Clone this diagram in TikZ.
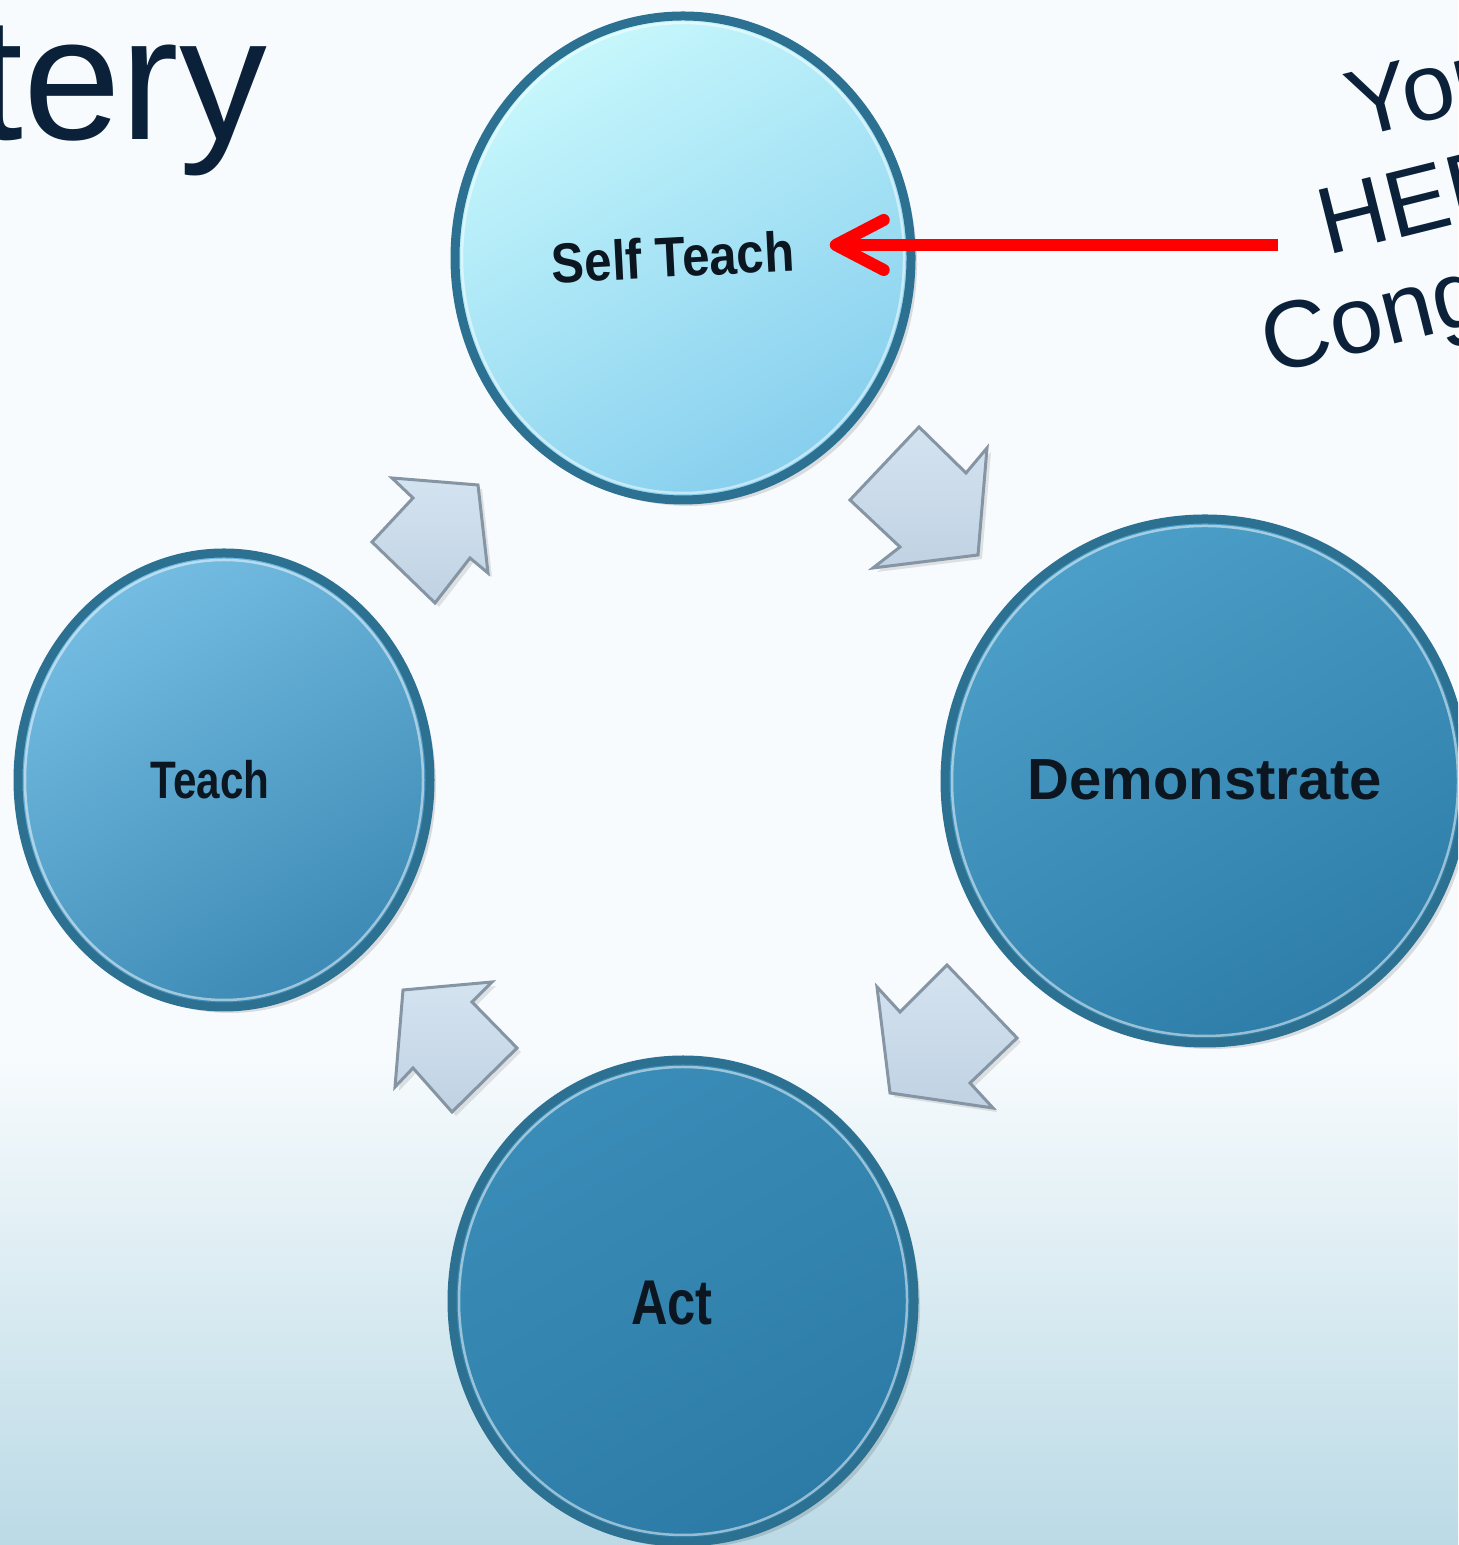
\documentclass[tikz,border=0pt]{standalone}
\usepackage{fontspec}
\setmainfont{Liberation Sans}
\usetikzlibrary{arrows.meta}

\definecolor{bgtop}{HTML}{F7FBFD}
\definecolor{bgbottom}{HTML}{BBDAE6}
\definecolor{titleink}{HTML}{0B2139}
\definecolor{textink}{HTML}{0C1620}
\definecolor{rimblue}{HTML}{2C7192}
\definecolor{hered}{HTML}{FF0000}
\definecolor{arrowlight}{HTML}{D4E3F0}
\definecolor{arrowdark}{HTML}{C0D2E3}
\definecolor{arrowedge}{HTML}{8595A4}
\definecolor{stlight}{HTML}{C6F7FC}
\definecolor{stdark}{HTML}{87CFEE}
\definecolor{tchlight}{HTML}{74BCE2}
\definecolor{tchdark}{HTML}{3C8AB5}
\definecolor{demlight}{HTML}{4C9FC8}
\definecolor{demdark}{HTML}{2D7DA8}
\definecolor{actlight}{HTML}{3A8DB8}
\definecolor{actdark}{HTML}{2C7BA6}

\begin{document}
\begin{tikzpicture}[
    bubbletext/.style={font=\bfseries, text=textink, inner sep=0pt},
    bubblerim/.style={draw=rimblue, line width=0.09cm},
    bubbleshine/.style={draw=white, draw opacity=0.5, line width=0.025cm},
    bubbleshadow/.style={fill=black, fill opacity=0.12},
    blockarrow/.style={top color=arrowlight, bottom color=arrowdark, draw=arrowedge, line width=0.03cm},
    blockshadow/.style={fill=black, fill opacity=0.10},
    herearrow/.style={draw=hered, line width=0.12cm, -{Straight Barb[length=0.48cm,width=0.5cm,round]}},
    slidetext/.style={text=titleink, inner sep=0pt}
  ]
% \clip (0,0) rectangle (14.580000,15.450000);
\useasboundingbox (0,0) rectangle (14.58,15.45);
\clip (0,0) rectangle (14.58,15.45);

% Drawing the slide background
\fill[bgtop] (0,0) rectangle (14.58,15.45);
\shade[top color=bgtop, bottom color=bgbottom] (0,0) rectangle (14.58,4.90);

% Marking the title, cut at the left
\node[slidetext, anchor=base east, font=\fontsize{50}{60}\selectfont] (title) at (2.68,14.05) {tery};

% Drawing circle Self Teach
\fill[bubbleshadow] (6.89,12.81) ellipse (2.28 and 2.42);
\shade[top color=stlight, bottom color=stdark, shading angle=30] (6.83,12.87) ellipse (2.28 and 2.42);
\draw[bubblerim] (6.83,12.87) ellipse (2.28 and 2.42);
\draw[bubbleshine] (6.83,12.87) ellipse (2.21 and 2.35);
\node[bubbletext, rotate=3, inner xsep=0.35cm, font=\bfseries\fontsize{16}{19}\selectfont] (st) at (6.73,12.88) {\scalebox{0.875}[1]{Self Teach}};

% Drawing circle Demonstrate
\fill[bubbleshadow] (12.11,7.58) ellipse (2.60 and 2.62);
\shade[top color=demlight, bottom color=demdark, shading angle=30] (12.05,7.64) ellipse (2.60 and 2.62);
\draw[bubblerim] (12.05,7.64) ellipse (2.60 and 2.62);
\draw[bubbleshine] (12.05,7.64) ellipse (2.53 and 2.55);
\node[bubbletext, font=\bfseries\fontsize{16.5}{20}\selectfont] (dem) at (12.05,7.65) {Demonstrate};

% Drawing circle Act
\fill[bubbleshadow] (6.89,2.38) ellipse (2.31 and 2.41);
\shade[top color=actlight, bottom color=actdark, shading angle=30] (6.83,2.44) ellipse (2.31 and 2.41);
\draw[bubblerim] (6.83,2.44) ellipse (2.31 and 2.41);
\draw[bubbleshine] (6.83,2.44) ellipse (2.24 and 2.34);
\node[bubbletext, font=\bfseries\fontsize{18}{22}\selectfont] (act) at (6.72,2.42) {\scalebox{0.8}[1]{Act}};

% Drawing circle Teach
\fill[bubbleshadow] (2.30,7.59) ellipse (2.06 and 2.27);
\shade[top color=tchlight, bottom color=tchdark, shading angle=30] (2.24,7.65) ellipse (2.06 and 2.27);
\draw[bubblerim] (2.24,7.65) ellipse (2.06 and 2.27);
\draw[bubbleshine] (2.24,7.65) ellipse (1.99 and 2.20);
\node[bubbletext, font=\bfseries\fontsize{15}{18}\selectfont] (tch) at (2.10,7.65) {\scalebox{0.8}[1]{Teach}};

% Drawing block arrow Self Teach -> Demonstrate
\fill[blockshadow, xshift=0.04cm, yshift=-0.04cm] (9.19,11.18) -- (9.66,10.72) -- (9.87,10.97) -- (9.78,9.90) -- (8.73,9.77) -- (9.00,9.98) -- (8.50,10.45) -- cycle;
\draw[blockarrow] (9.19,11.18) -- (9.66,10.72) -- (9.87,10.97) -- (9.78,9.90) -- (8.73,9.77) -- (9.00,9.98) -- (8.50,10.45) -- cycle;

% Drawing block arrow Demonstrate -> Act
\fill[blockshadow, xshift=0.04cm, yshift=-0.04cm] (9.47,5.80) -- (10.17,5.07) -- (9.70,4.62) -- (9.93,4.37) -- (8.90,4.52) -- (8.77,5.58) -- (9.00,5.33) -- cycle;
\draw[blockarrow] (9.47,5.80) -- (10.17,5.07) -- (9.70,4.62) -- (9.93,4.37) -- (8.90,4.52) -- (8.77,5.58) -- (9.00,5.33) -- cycle;

% Drawing block arrow Act -> Teach
\fill[blockshadow, xshift=0.04cm, yshift=-0.04cm] (4.03,5.55) -- (4.92,5.63) -- (4.72,5.43) -- (5.17,4.97) -- (4.52,4.33) -- (4.13,4.77) -- (3.95,4.58) -- cycle;
\draw[blockarrow] (4.03,5.55) -- (4.92,5.63) -- (4.72,5.43) -- (5.17,4.97) -- (4.52,4.33) -- (4.13,4.77) -- (3.95,4.58) -- cycle;

% Drawing block arrow Teach -> Self Teach
\fill[blockshadow, xshift=0.04cm, yshift=-0.04cm] (3.92,10.67) -- (4.78,10.60) -- (4.88,9.72) -- (4.70,9.87) -- (4.35,9.42) -- (3.72,10.03) -- (4.13,10.47) -- cycle;
\draw[blockarrow] (3.92,10.67) -- (4.78,10.60) -- (4.88,9.72) -- (4.70,9.87) -- (4.35,9.42) -- (3.72,10.03) -- (4.13,10.47) -- cycle;

% Marking the note, cut at the right
\node[slidetext, rotate=14, anchor=base west, font=\fontsize{27}{32}\selectfont] (you) at (13.56,14.06) {You};
\node[slidetext, rotate=14, anchor=base west, font=\fontsize{27}{32}\selectfont] (here) at (13.27,12.89) {HERE};
\node[slidetext, rotate=14, anchor=base west, font=\fontsize{27}{32}\selectfont] (cong) at (12.70,11.70) {Cong};

% Drawing line from the note to Self Teach
\coordinate (youarehere) at (12.78,13.00);
\draw[herearrow] (youarehere) -- (youarehere -| st.east);
\end{tikzpicture}
\end{document}
